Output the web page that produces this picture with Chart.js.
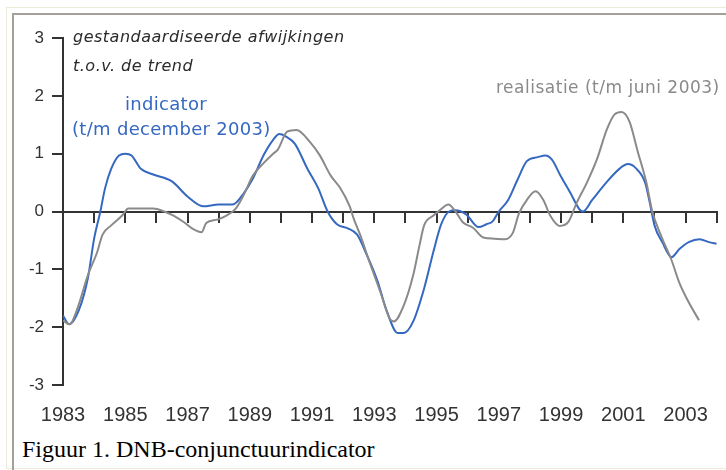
<!DOCTYPE html>
<html>
<head>
<meta charset="utf-8">
<script src="https://cdn.jsdelivr.net/npm/chart.js@4.4.1/dist/chart.umd.min.js"></script>
<style>
  body { margin: 0; background: #fff; }
  #page { position: relative; width: 726px; height: 470px; overflow: hidden; }
  .frame1 { position: absolute; left: 6px; top: 7px; width: 740px; height: 460px;
            border-left: 1px solid #ecead9; border-top: 1px solid #ecead9; border-bottom: 1px solid #ecead9; }
  .frame2 { position: absolute; left: 12px; top: 13px; width: 740px; height: 470px;
            border-left: 2px solid #a3a197; border-top: 2px solid #a3a197; }
  canvas { position: absolute; left: 0; top: 0; }
  .txt { position: absolute; white-space: nowrap; line-height: 1; font-family: "DejaVu Sans", sans-serif; }
  .titel { font-style: italic; font-size: 16px; color: #2a2a2a; letter-spacing: 0.5px; }
  .blauw { font-size: 18px; color: #3568c0; letter-spacing: 0.3px; }
  .grijs { font-size: 17px; color: #8a8a8a; letter-spacing: 0.5px; }
  .caption { position: absolute; left: 22px; top: 437px; font-family: "Liberation Serif", "Times New Roman", serif;
             font-size: 24px; line-height: 1; color: #000; white-space: nowrap; }
</style>
</head>
<body>
<div id="page">
  <div class="frame1"></div>
  <div class="frame2"></div>
  <canvas id="lineChart" width="726" height="430"></canvas>
  <div class="txt titel" style="left:73px; top:29px;">gestandaardiseerde afwijkingen</div>
  <div class="txt titel" style="left:73px; top:58px;">t.o.v. de trend</div>
  <div class="txt blauw" style="left:125px; top:95px;">indicator</div>
  <div class="txt blauw" style="left:72px; top:120px;">(t/m december 2003)</div>
  <div class="txt grijs" style="left:496px; top:79px;">realisatie (t/m juni 2003)</div>
  <div class="caption">Figuur 1. DNB-conjunctuurindicator</div>
</div>
<script>
// indicator (t/m december 2003)
const indJaar = [1983.0, 1983.2, 1983.5, 1983.8, 1984.0, 1984.2, 1984.35, 1984.55, 1984.8, 1985.0,
  1985.2, 1985.5, 1985.9, 1986.5, 1987.0, 1987.5, 1988.0, 1988.45, 1988.8, 1989.1,
  1989.45, 1989.75, 1989.95, 1990.15, 1990.45, 1990.85, 1991.2, 1991.5, 1991.8, 1992.15,
  1992.45, 1992.75, 1993.1, 1993.4, 1993.75, 1993.95, 1994.25, 1994.6, 1994.9, 1995.15,
  1995.4, 1995.6, 1995.95, 1996.35, 1996.6, 1996.8, 1997.0, 1997.3, 1997.6, 1997.9,
  1998.25, 1998.5, 1998.7, 1999.0, 1999.3, 1999.6, 1999.7, 2000.0, 2000.45, 2000.9,
  2001.15, 2001.4, 2001.7, 2001.85, 2002.0, 2002.25, 2002.55, 2002.8, 2003.1, 2003.45,
  2003.75, 2004.0];
const indWaarde = [-1.8, -1.95, -1.72, -1.15, -0.47, 0.0, 0.4, 0.74, 0.97, 1.0,
  0.97, 0.74, 0.64, 0.52, 0.26, 0.09, 0.12, 0.12, 0.31, 0.57,
  0.98, 1.24, 1.34, 1.3, 1.17, 0.74, 0.4, 0.0, -0.22, -0.29,
  -0.4, -0.74, -1.2, -1.72, -2.1, -2.1, -1.9, -1.33, -0.69, -0.22,
  0.0, 0.02, -0.05, -0.27, -0.22, -0.17, 0.0, 0.2, 0.55, 0.87,
  0.94, 0.97, 0.9, 0.6, 0.32, 0.03, 0.0, 0.2, 0.5, 0.75,
  0.82, 0.75, 0.5, 0.15, -0.24, -0.53, -0.79, -0.65, -0.53, -0.48,
  -0.53, -0.56];

// realisatie (t/m juni 2003)
const realJaar = [1983.0, 1983.2, 1983.3, 1983.5, 1983.8, 1984.1, 1984.27, 1984.55, 1984.9, 1985.1,
  1985.5, 1985.9, 1986.25, 1986.55, 1986.9, 1987.2, 1987.45, 1987.6, 1987.95, 1988.25,
  1988.55, 1988.8, 1989.1, 1989.45, 1989.75, 1989.9, 1990.2, 1990.5, 1990.95, 1991.25,
  1991.6, 1991.9, 1992.2, 1992.35, 1992.55, 1992.85, 1993.2, 1993.5, 1993.63, 1993.95,
  1994.25, 1994.45, 1994.6, 1994.9, 1995.1, 1995.38, 1995.57, 1995.85, 1996.17, 1996.5,
  1996.85, 1997.2, 1997.45, 1997.65, 1997.9, 1998.18, 1998.43, 1998.65, 1998.95, 1999.22,
  1999.5, 1999.83, 2000.15, 2000.47, 2000.72, 2000.94, 2001.2, 2001.45, 2001.74, 2001.93,
  2002.22, 2002.54, 2002.79, 2003.1, 2003.43];
const realWaarde = [-1.88, -1.95, -1.9, -1.62, -1.1, -0.7, -0.4, -0.24, -0.07, 0.05,
  0.05, 0.05, 0.0, -0.07, -0.19, -0.31, -0.36, -0.2, -0.14, -0.07,
  0.05, 0.28, 0.62, 0.84, 1.0, 1.07, 1.38, 1.41, 1.19, 0.97,
  0.62, 0.41, 0.1, -0.14, -0.41, -0.88, -1.4, -1.86, -1.9, -1.62,
  -1.1, -0.59, -0.24, -0.07, 0.02, 0.12, 0.03, -0.19, -0.28, -0.45,
  -0.47, -0.48, -0.37, -0.03, 0.2, 0.35, 0.2, -0.07, -0.25, -0.19,
  0.15, 0.5, 0.9, 1.42, 1.68, 1.72, 1.55, 1.06, 0.5, 0.0,
  -0.43, -0.83, -1.22, -1.57, -1.88];

const jaarLabels = [1983, 1985, 1987, 1989, 1991, 1993, 1995, 1997, 1999, 2001, 2003];
const jaarStreepjes = [1983, 1984, 1985, 1986, 1987, 1988, 1989, 1990, 1991, 1992, 1993,
  1994, 1995, 1996, 1997, 1998, 1999, 2000, 2001, 2002, 2003, 2004];
const yWaarden = [-3, -2, -1, 0, 1, 2, 3];

const asKleur = '#333333';
const blauw = '#3568c0';
const grijs = '#8a8a8a';

const ctx = document.getElementById('lineChart').getContext('2d');

const lineChart = new Chart(ctx, {
  type: 'line',
  data: {
    datasets: [{
      label: 'realisatie',
      data: realJaar.map((j, i) => ({ x: j, y: realWaarde[i] })),
      borderColor: grijs,
      borderWidth: 2,
      pointRadius: 0,
      cubicInterpolationMode: 'monotone'
    }, {
      label: 'indicator',
      data: indJaar.map((j, i) => ({ x: j, y: indWaarde[i] })),
      borderColor: blauw,
      borderWidth: 2,
      pointRadius: 0,
      cubicInterpolationMode: 'monotone'
    }]
  },
  options: {
    responsive: false,
    animation: false,
    devicePixelRatio: 1,
    layout: { padding: { top: 38, right: 3, left: 0, bottom: 0 } },
    plugins: { legend: { display: false }, tooltip: { enabled: false } },
    scales: {
      x: {
        type: 'linear',
        min: 1983,
        max: 2004,
        position: 'bottom',
        border: { display: false },
        grid: { display: false, drawTicks: false },
        afterBuildTicks: s => { s.ticks = jaarLabels.map(v => ({ value: v })); },
        afterFit: s => { s.height = 45; },
        ticks: {
          padding: 18,
          color: asKleur,
          maxRotation: 0,
          autoSkip: false,
          font: { family: 'Liberation Sans', size: 20 },
          callback: v => String(v)
        }
      },
      x0: {
        type: 'linear',
        axis: 'x',
        min: 1983,
        max: 2004,
        position: { y: 0 },
        border: { display: true, color: asKleur, width: 2 },
        grid: { drawOnChartArea: false, drawTicks: true, tickLength: 10, color: asKleur, lineWidth: 2 },
        afterBuildTicks: s => { s.ticks = jaarStreepjes.map(v => ({ value: v })); },
        ticks: { display: false }
      },
      y: {
        min: -3,
        max: 3,
        border: { display: true, color: asKleur, width: 2 },
        grid: { drawOnChartArea: false, drawTicks: true, tickLength: 11, color: asKleur, lineWidth: 2 },
        afterBuildTicks: s => { s.ticks = yWaarden.map(v => ({ value: v })); },
        afterFit: s => { s.width = 63; },
        ticks: {
          padding: 8,
          color: asKleur,
          font: { family: 'Liberation Sans', size: 17 },
          callback: v => String(v)
        }
      }
    }
  }
});
</script>
</body>
</html>
